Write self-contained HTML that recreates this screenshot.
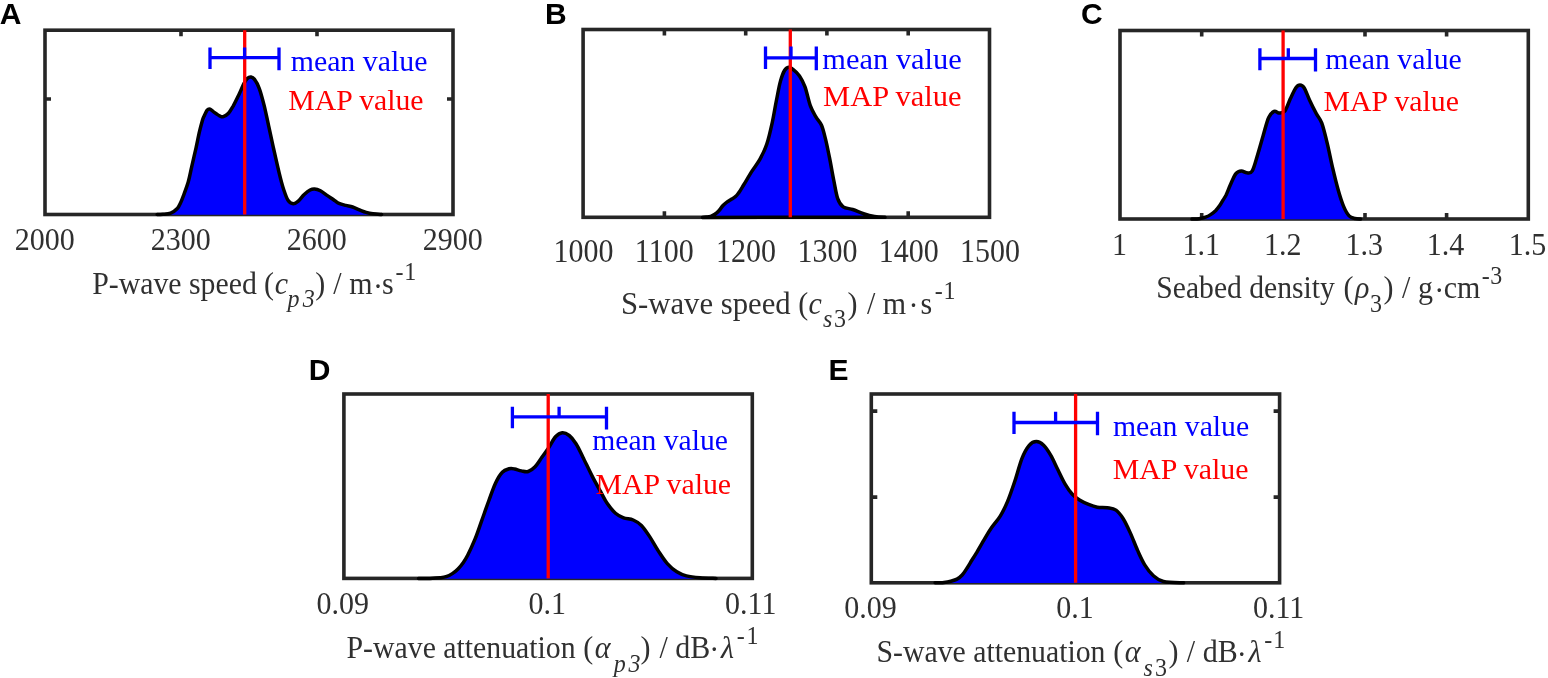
<!DOCTYPE html>
<html><head><meta charset="utf-8"><title>Posterior distributions</title>
<style>
html,body{margin:0;padding:0;background:#fff;}
body{width:1548px;height:678px;overflow:hidden;}
svg{display:block;}
.t{font-family:'Liberation Serif','Times New Roman',serif;font-size:30px;fill:#303030;}
.pl{font-family:'Liberation Sans',Arial,sans-serif;font-size:30px;font-weight:bold;fill:#000;}
</style></head>
<body>
<svg width="1548" height="678" viewBox="0 0 1548 678">
<rect width="1548" height="678" fill="#fff"/>
<g>
<path d="M181.0,30.2 v6.0 M181.0,214.5 v-6.0 M317.0,30.2 v6.0 M317.0,214.5 v-6.0 M45.0,99.0 h6.0 M453.0,99.0 h-6.0" stroke="#262626" stroke-width="3.6" fill="none"/>
<rect x="45.0" y="30.2" width="408.0" height="184.3" fill="none" stroke="#262626" stroke-width="3.6"/>
<path d="M157.1,214.5 C158.1,214.5 160.7,214.5 163.0,214.3 C165.3,214.1 168.3,214.1 170.7,213.1 C173.1,212.1 175.7,210.2 177.3,208.5 C179.0,206.8 179.6,204.9 180.6,202.8 C181.6,200.7 182.1,199.3 183.4,195.8 C184.7,192.3 186.9,186.7 188.3,181.8 C189.7,176.9 190.5,171.9 191.8,166.3 C193.1,160.7 194.7,153.9 196.0,148.1 C197.3,142.2 198.5,135.8 199.6,131.2 C200.7,126.6 201.7,123.0 202.4,120.5 C203.1,118.0 203.1,118.2 203.9,116.5 C204.7,114.8 206.2,111.3 207.2,110.1 C208.2,108.9 208.9,108.7 210.1,109.1 C211.3,109.5 212.6,111.2 214.3,112.4 C216.0,113.6 218.7,115.5 220.2,116.2 C221.7,116.9 221.9,117.2 223.3,116.7 C224.7,116.2 226.8,115.0 228.5,113.2 C230.2,111.4 231.4,109.2 233.2,106.1 C235.0,102.9 237.3,98.0 239.1,94.3 C240.9,90.5 242.5,86.2 243.9,83.6 C245.3,80.9 246.2,79.5 247.4,78.4 C248.6,77.3 249.8,76.8 251.0,77.0 C252.2,77.2 253.1,77.5 254.5,79.4 C255.9,81.3 257.6,84.0 259.2,88.3 C260.8,92.5 262.4,98.6 264.0,104.9 C265.6,111.2 267.1,119.0 268.7,126.1 C270.2,133.2 271.6,139.6 273.3,147.4 C275.1,155.2 277.5,166.1 279.2,173.1 C280.9,180.1 282.1,184.8 283.6,189.3 C285.1,193.8 286.4,197.9 288.0,200.3 C289.6,202.7 291.5,203.6 293.2,203.7 C294.9,203.8 296.5,202.6 298.3,201.1 C300.1,199.6 302.2,196.3 304.2,194.5 C306.2,192.7 308.4,190.9 310.1,190.0 C311.8,189.1 312.8,188.9 314.5,189.0 C316.2,189.1 318.2,189.7 320.4,190.8 C322.6,192.0 325.4,194.3 327.8,195.9 C330.2,197.5 332.6,199.2 334.5,200.4 C336.4,201.7 337.1,202.6 339.0,203.4 C340.9,204.2 343.5,204.8 345.8,205.4 C348.1,206.0 350.3,206.2 352.6,207.0 C354.9,207.8 357.1,209.0 359.4,209.9 C361.7,210.8 363.9,211.8 366.2,212.4 C368.5,213.1 370.4,213.5 373.0,213.8 C375.6,214.2 380.2,214.4 381.6,214.5 L381.6,214.8 L157.1,214.8 Z" fill="#0000ff" stroke="none"/>
<path d="M157.1,214.5 C158.1,214.5 160.7,214.5 163.0,214.3 C165.3,214.1 168.3,214.1 170.7,213.1 C173.1,212.1 175.7,210.2 177.3,208.5 C179.0,206.8 179.6,204.9 180.6,202.8 C181.6,200.7 182.1,199.3 183.4,195.8 C184.7,192.3 186.9,186.7 188.3,181.8 C189.7,176.9 190.5,171.9 191.8,166.3 C193.1,160.7 194.7,153.9 196.0,148.1 C197.3,142.2 198.5,135.8 199.6,131.2 C200.7,126.6 201.7,123.0 202.4,120.5 C203.1,118.0 203.1,118.2 203.9,116.5 C204.7,114.8 206.2,111.3 207.2,110.1 C208.2,108.9 208.9,108.7 210.1,109.1 C211.3,109.5 212.6,111.2 214.3,112.4 C216.0,113.6 218.7,115.5 220.2,116.2 C221.7,116.9 221.9,117.2 223.3,116.7 C224.7,116.2 226.8,115.0 228.5,113.2 C230.2,111.4 231.4,109.2 233.2,106.1 C235.0,102.9 237.3,98.0 239.1,94.3 C240.9,90.5 242.5,86.2 243.9,83.6 C245.3,80.9 246.2,79.5 247.4,78.4 C248.6,77.3 249.8,76.8 251.0,77.0 C252.2,77.2 253.1,77.5 254.5,79.4 C255.9,81.3 257.6,84.0 259.2,88.3 C260.8,92.5 262.4,98.6 264.0,104.9 C265.6,111.2 267.1,119.0 268.7,126.1 C270.2,133.2 271.6,139.6 273.3,147.4 C275.1,155.2 277.5,166.1 279.2,173.1 C280.9,180.1 282.1,184.8 283.6,189.3 C285.1,193.8 286.4,197.9 288.0,200.3 C289.6,202.7 291.5,203.6 293.2,203.7 C294.9,203.8 296.5,202.6 298.3,201.1 C300.1,199.6 302.2,196.3 304.2,194.5 C306.2,192.7 308.4,190.9 310.1,190.0 C311.8,189.1 312.8,188.9 314.5,189.0 C316.2,189.1 318.2,189.7 320.4,190.8 C322.6,192.0 325.4,194.3 327.8,195.9 C330.2,197.5 332.6,199.2 334.5,200.4 C336.4,201.7 337.1,202.6 339.0,203.4 C340.9,204.2 343.5,204.8 345.8,205.4 C348.1,206.0 350.3,206.2 352.6,207.0 C354.9,207.8 357.1,209.0 359.4,209.9 C361.7,210.8 363.9,211.8 366.2,212.4 C368.5,213.1 370.4,213.5 373.0,213.8 C375.6,214.2 380.2,214.4 381.6,214.5" fill="none" stroke="#000" stroke-width="3.5" stroke-linejoin="round" stroke-linecap="round"/>
<line x1="244.7" y1="30.2" x2="244.7" y2="214.5" stroke="#ff0000" stroke-width="3.3"/>
<path d="M210.0,47.4 V69.0 M279.0,47.4 V70.2 M210.0,57.7 H279.0 M244.6,47.4 V57.7" stroke="#0000ff" stroke-width="3.3" fill="none"/>
<text class="t" transform="translate(14.71 249.90) scale(1 1.080)">2000</text>
<text class="t" transform="translate(150.71 249.90) scale(1 1.080)">2300</text>
<text class="t" transform="translate(286.71 249.90) scale(1 1.080)">2600</text>
<text class="t" transform="translate(422.71 249.90) scale(1 1.080)">2900</text>
<text class="t" transform="translate(290.67 70.70) scale(0.9951 1.0150)" style="fill:#0000ff">mean value</text>
<text class="t" transform="translate(288.34 110.20) scale(0.9920 1.0150)" style="fill:#ff0000">MAP value</text>
<text class="pl" x="-0.15" y="23.60" style="font-size:30px">A</text>
</g>
<g>
<path d="M664.4,29.5 v6.0 M664.4,217.3 v-6.0 M745.7,29.5 v6.0 M745.7,217.3 v-6.0 M826.9,29.5 v6.0 M826.9,217.3 v-6.0 M908.2,29.5 v6.0 M908.2,217.3 v-6.0" stroke="#262626" stroke-width="3.6" fill="none"/>
<rect x="583.1" y="29.5" width="406.4" height="187.8" fill="none" stroke="#262626" stroke-width="3.6"/>
<path d="M702.4,217.4 C703.1,217.3 705.1,217.3 706.5,217.1 C707.9,216.9 709.3,216.8 710.7,216.3 C712.1,215.8 713.4,215.2 714.8,214.3 C716.2,213.4 717.5,212.2 718.9,210.7 C720.3,209.2 721.6,207.0 723.0,205.5 C724.4,204.0 725.8,202.9 727.2,201.9 C728.6,200.9 729.9,200.2 731.3,199.3 C732.7,198.4 734.2,197.7 735.4,196.7 C736.6,195.7 737.1,195.0 738.5,193.1 C739.9,191.2 741.4,188.6 743.6,185.0 C745.8,181.4 749.1,175.7 751.8,171.4 C754.5,167.1 757.5,163.7 760.0,159.1 C762.5,154.5 764.8,150.2 766.8,144.1 C768.8,138.0 770.7,129.6 772.3,122.3 C773.9,115.0 775.0,107.3 776.4,100.5 C777.8,93.7 779.0,86.4 780.4,81.4 C781.8,76.4 783.1,72.9 784.5,70.5 C785.9,68.1 787.2,67.4 788.6,67.2 C790.0,67.0 790.9,67.6 792.7,69.1 C794.5,70.5 797.5,73.0 799.5,75.9 C801.5,78.9 803.2,81.8 805.0,86.8 C806.8,91.8 808.6,100.9 810.4,105.9 C812.2,110.9 814.1,113.6 815.9,116.8 C817.7,120.0 819.8,121.4 821.4,125.0 C823.0,128.6 824.0,133.2 825.4,138.6 C826.8,144.0 828.1,150.9 829.5,157.7 C830.9,164.5 832.2,172.7 833.6,179.5 C835.0,186.3 836.1,194.0 837.7,198.6 C839.3,203.2 840.7,205.0 843.2,206.8 C845.7,208.6 849.3,208.4 852.7,209.5 C856.1,210.6 860.0,212.4 863.6,213.6 C867.2,214.8 870.9,215.8 874.5,216.4 C878.1,217.0 883.2,217.2 885.0,217.3 L885.0,217.6 L702.4,217.6 Z" fill="#0000ff" stroke="none"/>
<path d="M702.4,217.4 C703.1,217.3 705.1,217.3 706.5,217.1 C707.9,216.9 709.3,216.8 710.7,216.3 C712.1,215.8 713.4,215.2 714.8,214.3 C716.2,213.4 717.5,212.2 718.9,210.7 C720.3,209.2 721.6,207.0 723.0,205.5 C724.4,204.0 725.8,202.9 727.2,201.9 C728.6,200.9 729.9,200.2 731.3,199.3 C732.7,198.4 734.2,197.7 735.4,196.7 C736.6,195.7 737.1,195.0 738.5,193.1 C739.9,191.2 741.4,188.6 743.6,185.0 C745.8,181.4 749.1,175.7 751.8,171.4 C754.5,167.1 757.5,163.7 760.0,159.1 C762.5,154.5 764.8,150.2 766.8,144.1 C768.8,138.0 770.7,129.6 772.3,122.3 C773.9,115.0 775.0,107.3 776.4,100.5 C777.8,93.7 779.0,86.4 780.4,81.4 C781.8,76.4 783.1,72.9 784.5,70.5 C785.9,68.1 787.2,67.4 788.6,67.2 C790.0,67.0 790.9,67.6 792.7,69.1 C794.5,70.5 797.5,73.0 799.5,75.9 C801.5,78.9 803.2,81.8 805.0,86.8 C806.8,91.8 808.6,100.9 810.4,105.9 C812.2,110.9 814.1,113.6 815.9,116.8 C817.7,120.0 819.8,121.4 821.4,125.0 C823.0,128.6 824.0,133.2 825.4,138.6 C826.8,144.0 828.1,150.9 829.5,157.7 C830.9,164.5 832.2,172.7 833.6,179.5 C835.0,186.3 836.1,194.0 837.7,198.6 C839.3,203.2 840.7,205.0 843.2,206.8 C845.7,208.6 849.3,208.4 852.7,209.5 C856.1,210.6 860.0,212.4 863.6,213.6 C867.2,214.8 870.9,215.8 874.5,216.4 C878.1,217.0 883.2,217.2 885.0,217.3 Z" fill="none" stroke="#000" stroke-width="3.5" stroke-linejoin="round"/>
<line x1="790.3" y1="29.5" x2="790.3" y2="217.3" stroke="#ff0000" stroke-width="3.3"/>
<path d="M765.5,46.6 V69.1 M816.3,46.6 V70.3 M765.5,57.9 H816.3 M791.0,46.6 V57.9" stroke="#0000ff" stroke-width="3.3" fill="none"/>
<text class="t" transform="translate(553.55 261.80) scale(1 1.120)">1000</text>
<text class="t" transform="translate(634.83 261.80) scale(1 1.120)">1100</text>
<text class="t" transform="translate(716.11 261.80) scale(1 1.120)">1200</text>
<text class="t" transform="translate(797.39 261.80) scale(1 1.120)">1300</text>
<text class="t" transform="translate(878.67 261.80) scale(1 1.120)">1400</text>
<text class="t" transform="translate(959.95 261.80) scale(1 1.120)">1500</text>
<text class="t" transform="translate(822.36 69.10) scale(1.0150 1.0150)" style="fill:#0000ff">mean value</text>
<text class="t" transform="translate(823.12 105.50) scale(1.0156 1.0150)" style="fill:#ff0000">MAP value</text>
<text class="pl" x="544.89" y="23.80" style="font-size:30px">B</text>
</g>
<g>
<path d="M1201.7,30.5 v6.0 M1201.7,219.0 v-6.0 M1365.0,30.5 v6.0 M1365.0,219.0 v-6.0 M1446.6,30.5 v6.0 M1446.6,219.0 v-6.0" stroke="#262626" stroke-width="3.6" fill="none"/>
<rect x="1120.0" y="30.5" width="408.3" height="188.5" fill="none" stroke="#262626" stroke-width="3.6"/>
<path d="M1192.0,219.0 C1193.2,218.9 1196.8,219.0 1199.0,218.7 C1201.2,218.4 1203.6,217.9 1205.5,217.2 C1207.4,216.5 1208.9,215.7 1210.6,214.6 C1212.3,213.5 1214.2,212.1 1215.8,210.5 C1217.3,208.9 1218.7,207.0 1219.9,205.3 C1221.1,203.6 1222.0,201.9 1223.0,200.2 C1224.0,198.5 1224.8,197.6 1226.1,195.0 C1227.3,192.4 1228.9,188.1 1230.5,184.5 C1232.1,180.9 1234.1,175.9 1235.9,173.6 C1237.7,171.3 1239.6,171.0 1241.4,170.9 C1243.2,170.8 1245.0,172.8 1246.8,172.8 C1248.6,172.8 1250.5,174.0 1252.3,170.9 C1254.1,167.8 1255.9,160.4 1257.7,154.5 C1259.5,148.6 1261.4,141.5 1263.2,135.4 C1265.0,129.3 1266.8,121.7 1268.6,117.7 C1270.4,113.7 1272.3,112.2 1274.1,111.4 C1275.9,110.6 1277.7,113.2 1279.5,113.1 C1281.3,113.0 1283.2,113.3 1285.0,110.9 C1286.8,108.5 1288.6,102.5 1290.4,98.6 C1292.2,94.7 1294.3,90.0 1295.9,87.7 C1297.5,85.4 1298.6,85.0 1300.0,85.0 C1301.4,85.0 1302.5,85.2 1304.1,87.7 C1305.7,90.2 1307.5,95.7 1309.5,100.0 C1311.5,104.3 1314.2,109.7 1316.3,113.6 C1318.3,117.5 1320.0,118.2 1321.8,123.2 C1323.6,128.2 1325.5,136.1 1327.3,143.6 C1329.1,151.1 1330.9,160.5 1332.7,168.2 C1334.5,175.9 1336.4,183.6 1338.2,190.0 C1340.0,196.4 1341.8,202.1 1343.6,206.4 C1345.4,210.7 1347.2,213.9 1349.1,215.9 C1351.0,217.9 1353.1,218.0 1355.0,218.5 C1356.9,219.0 1359.6,218.9 1360.5,219.0 L1360.5,219.3 L1192.0,219.3 Z" fill="#0000ff" stroke="none"/>
<path d="M1192.0,219.0 C1193.2,218.9 1196.8,219.0 1199.0,218.7 C1201.2,218.4 1203.6,217.9 1205.5,217.2 C1207.4,216.5 1208.9,215.7 1210.6,214.6 C1212.3,213.5 1214.2,212.1 1215.8,210.5 C1217.3,208.9 1218.7,207.0 1219.9,205.3 C1221.1,203.6 1222.0,201.9 1223.0,200.2 C1224.0,198.5 1224.8,197.6 1226.1,195.0 C1227.3,192.4 1228.9,188.1 1230.5,184.5 C1232.1,180.9 1234.1,175.9 1235.9,173.6 C1237.7,171.3 1239.6,171.0 1241.4,170.9 C1243.2,170.8 1245.0,172.8 1246.8,172.8 C1248.6,172.8 1250.5,174.0 1252.3,170.9 C1254.1,167.8 1255.9,160.4 1257.7,154.5 C1259.5,148.6 1261.4,141.5 1263.2,135.4 C1265.0,129.3 1266.8,121.7 1268.6,117.7 C1270.4,113.7 1272.3,112.2 1274.1,111.4 C1275.9,110.6 1277.7,113.2 1279.5,113.1 C1281.3,113.0 1283.2,113.3 1285.0,110.9 C1286.8,108.5 1288.6,102.5 1290.4,98.6 C1292.2,94.7 1294.3,90.0 1295.9,87.7 C1297.5,85.4 1298.6,85.0 1300.0,85.0 C1301.4,85.0 1302.5,85.2 1304.1,87.7 C1305.7,90.2 1307.5,95.7 1309.5,100.0 C1311.5,104.3 1314.2,109.7 1316.3,113.6 C1318.3,117.5 1320.0,118.2 1321.8,123.2 C1323.6,128.2 1325.5,136.1 1327.3,143.6 C1329.1,151.1 1330.9,160.5 1332.7,168.2 C1334.5,175.9 1336.4,183.6 1338.2,190.0 C1340.0,196.4 1341.8,202.1 1343.6,206.4 C1345.4,210.7 1347.2,213.9 1349.1,215.9 C1351.0,217.9 1353.1,218.0 1355.0,218.5 C1356.9,219.0 1359.6,218.9 1360.5,219.0" fill="none" stroke="#000" stroke-width="3.5" stroke-linejoin="round" stroke-linecap="round"/>
<line x1="1283.1" y1="30.5" x2="1283.1" y2="219.0" stroke="#ff0000" stroke-width="3.3"/>
<path d="M1259.9,48.2 V70.2 M1315.5,48.2 V71.4 M1259.9,58.5 H1315.5 M1288.3,48.2 V58.5" stroke="#0000ff" stroke-width="3.3" fill="none"/>
<text class="t" transform="translate(1112.08 254.80) scale(1 1.080)">1</text>
<text class="t" transform="translate(1182.49 254.80) scale(1 1.080)">1.1</text>
<text class="t" transform="translate(1264.08 254.80) scale(1 1.080)">1.2</text>
<text class="t" transform="translate(1345.50 254.80) scale(1 1.080)">1.3</text>
<text class="t" transform="translate(1426.81 254.80) scale(1 1.080)">1.4</text>
<text class="t" transform="translate(1508.82 254.80) scale(1 1.080)">1.5</text>
<text class="t" transform="translate(1325.37 68.60) scale(0.9929 1.0150)" style="fill:#0000ff">mean value</text>
<text class="t" transform="translate(1323.54 110.90) scale(0.9927 1.0150)" style="fill:#ff0000">MAP value</text>
<text class="pl" x="1080.97" y="24.20" style="font-size:30px">C</text>
</g>
<g>
<path d="" stroke="#262626" stroke-width="3.6" fill="none"/>
<rect x="343.9" y="394.0" width="408.4" height="184.4" fill="none" stroke="#262626" stroke-width="3.6"/>
<path d="M418.5,578.5 C420.4,578.5 426.4,578.5 430.0,578.4 C433.6,578.3 437.3,578.1 440.0,577.8 C442.7,577.5 444.1,577.4 446.1,576.7 C448.2,576.0 450.3,574.9 452.3,573.6 C454.3,572.3 456.2,570.7 458.0,568.9 C459.8,567.1 461.6,565.0 463.2,562.7 C464.8,560.4 465.8,558.9 467.8,555.0 C469.8,551.1 472.6,545.0 475.0,539.2 C477.4,533.4 479.6,526.5 481.9,520.1 C484.2,513.7 486.4,507.1 488.7,501.0 C491.0,494.9 493.2,488.0 495.5,483.2 C497.8,478.4 500.0,474.7 502.3,472.3 C504.6,469.9 507.1,469.4 509.1,468.8 C511.2,468.2 512.6,468.6 514.6,469.0 C516.6,469.4 519.1,470.5 521.4,470.9 C523.7,471.3 525.9,472.2 528.2,471.5 C530.5,470.8 532.8,469.2 535.1,466.8 C537.4,464.4 539.6,460.5 541.9,457.3 C544.2,454.1 546.4,451.1 548.7,447.7 C551.0,444.3 553.2,439.3 555.5,436.8 C557.8,434.3 560.0,432.9 562.3,432.7 C564.6,432.5 566.9,433.7 569.2,435.5 C571.5,437.3 573.7,440.1 576.0,443.7 C578.3,447.3 580.1,451.4 582.8,456.9 C585.5,462.3 589.3,470.6 592.3,476.4 C595.2,482.1 598.0,486.9 600.5,491.4 C603.0,495.9 604.8,500.0 607.3,503.6 C609.8,507.2 612.8,510.8 615.5,513.2 C618.2,515.6 620.6,516.7 623.6,517.8 C626.6,518.9 630.2,518.7 633.2,520.0 C636.2,521.3 638.7,522.7 641.4,525.4 C644.1,528.1 646.8,532.3 649.5,536.4 C652.2,540.5 654.7,545.5 657.7,550.0 C660.7,554.5 664.1,560.0 667.3,563.6 C670.5,567.2 673.6,569.8 676.8,571.8 C680.0,573.8 682.5,574.9 686.4,575.9 C690.3,576.9 695.1,577.4 700.0,577.8 C704.9,578.2 713.3,578.3 716.0,578.4 L716.0,578.7 L418.5,578.7 Z" fill="#0000ff" stroke="none"/>
<path d="M418.5,578.5 C420.4,578.5 426.4,578.5 430.0,578.4 C433.6,578.3 437.3,578.1 440.0,577.8 C442.7,577.5 444.1,577.4 446.1,576.7 C448.2,576.0 450.3,574.9 452.3,573.6 C454.3,572.3 456.2,570.7 458.0,568.9 C459.8,567.1 461.6,565.0 463.2,562.7 C464.8,560.4 465.8,558.9 467.8,555.0 C469.8,551.1 472.6,545.0 475.0,539.2 C477.4,533.4 479.6,526.5 481.9,520.1 C484.2,513.7 486.4,507.1 488.7,501.0 C491.0,494.9 493.2,488.0 495.5,483.2 C497.8,478.4 500.0,474.7 502.3,472.3 C504.6,469.9 507.1,469.4 509.1,468.8 C511.2,468.2 512.6,468.6 514.6,469.0 C516.6,469.4 519.1,470.5 521.4,470.9 C523.7,471.3 525.9,472.2 528.2,471.5 C530.5,470.8 532.8,469.2 535.1,466.8 C537.4,464.4 539.6,460.5 541.9,457.3 C544.2,454.1 546.4,451.1 548.7,447.7 C551.0,444.3 553.2,439.3 555.5,436.8 C557.8,434.3 560.0,432.9 562.3,432.7 C564.6,432.5 566.9,433.7 569.2,435.5 C571.5,437.3 573.7,440.1 576.0,443.7 C578.3,447.3 580.1,451.4 582.8,456.9 C585.5,462.3 589.3,470.6 592.3,476.4 C595.2,482.1 598.0,486.9 600.5,491.4 C603.0,495.9 604.8,500.0 607.3,503.6 C609.8,507.2 612.8,510.8 615.5,513.2 C618.2,515.6 620.6,516.7 623.6,517.8 C626.6,518.9 630.2,518.7 633.2,520.0 C636.2,521.3 638.7,522.7 641.4,525.4 C644.1,528.1 646.8,532.3 649.5,536.4 C652.2,540.5 654.7,545.5 657.7,550.0 C660.7,554.5 664.1,560.0 667.3,563.6 C670.5,567.2 673.6,569.8 676.8,571.8 C680.0,573.8 682.5,574.9 686.4,575.9 C690.3,576.9 695.1,577.4 700.0,577.8 C704.9,578.2 713.3,578.3 716.0,578.4" fill="none" stroke="#000" stroke-width="3.5" stroke-linejoin="round" stroke-linecap="round"/>
<line x1="548.2" y1="394.0" x2="548.2" y2="578.4" stroke="#ff0000" stroke-width="3.3"/>
<path d="M512.4,406.8 V428.3 M606.5,406.8 V429.5 M512.4,416.9 H606.5 M559.1,406.8 V416.9" stroke="#0000ff" stroke-width="3.3" fill="none"/>
<text class="t" transform="translate(316.39 613.90) scale(1 1.080)">0.09</text>
<text class="t" transform="translate(528.38 613.90) scale(1 1.080)">0.1</text>
<text class="t" transform="translate(725.08 613.90) scale(1 1.080)">0.11</text>
<text class="t" transform="translate(592.18 450.00) scale(0.9885 1.0150)" style="fill:#0000ff">mean value</text>
<text class="t" transform="translate(595.44 494.00) scale(0.9949 1.0150)" style="fill:#ff0000">MAP value</text>
<text class="pl" x="308.79" y="379.70" style="font-size:30px">D</text>
</g>
<g>
<path d="M871.3,411.1 h6.0 M1279.6,411.1 h-6.0 M871.3,497.1 h6.0 M1279.6,497.1 h-6.0" stroke="#262626" stroke-width="3.6" fill="none"/>
<rect x="871.3" y="394.0" width="408.3" height="188.8" fill="none" stroke="#262626" stroke-width="3.6"/>
<path d="M935.1,582.8 C936.6,582.8 941.4,582.8 944.0,582.5 C946.6,582.2 948.6,581.8 950.8,581.2 C953.0,580.6 955.1,580.1 957.0,579.1 C958.9,578.1 960.5,576.9 962.2,575.0 C963.9,573.1 965.7,570.2 967.3,567.7 C968.9,565.2 970.5,562.4 972.0,560.0 C973.5,557.6 973.9,557.1 976.0,553.6 C978.1,550.1 982.0,543.2 984.6,538.8 C987.2,534.4 989.2,531.1 991.8,527.3 C994.4,523.5 997.8,520.1 1000.4,515.8 C1003.0,511.5 1005.2,507.1 1007.6,501.4 C1010.0,495.6 1012.4,488.5 1014.8,481.3 C1017.2,474.1 1019.6,464.3 1022.0,458.3 C1024.4,452.3 1026.8,448.1 1029.2,445.3 C1031.6,442.5 1034.0,441.6 1036.4,441.6 C1038.8,441.6 1041.2,443.0 1043.6,445.3 C1046.0,447.6 1048.4,451.3 1050.8,455.4 C1053.2,459.5 1055.5,465.0 1057.9,469.8 C1060.3,474.6 1062.7,480.0 1065.1,484.1 C1067.5,488.2 1069.9,491.6 1072.3,494.2 C1074.7,496.8 1076.8,498.3 1079.5,500.0 C1082.2,501.7 1085.6,503.2 1088.6,504.4 C1091.6,505.6 1094.2,506.6 1097.3,507.2 C1100.4,507.8 1104.2,507.3 1107.3,507.8 C1110.4,508.3 1113.3,508.3 1116.0,510.1 C1118.7,511.9 1120.8,514.9 1123.2,518.7 C1125.6,522.5 1128.0,527.8 1130.4,533.1 C1132.8,538.4 1135.2,545.1 1137.6,550.4 C1140.0,555.7 1142.1,560.6 1144.7,564.8 C1147.3,569.0 1150.3,572.9 1153.4,575.7 C1156.5,578.5 1158.5,580.3 1163.5,581.5 C1168.5,582.7 1180.2,582.6 1183.6,582.8 L1183.6,583.1 L935.1,583.1 Z" fill="#0000ff" stroke="none"/>
<path d="M935.1,582.8 C936.6,582.8 941.4,582.8 944.0,582.5 C946.6,582.2 948.6,581.8 950.8,581.2 C953.0,580.6 955.1,580.1 957.0,579.1 C958.9,578.1 960.5,576.9 962.2,575.0 C963.9,573.1 965.7,570.2 967.3,567.7 C968.9,565.2 970.5,562.4 972.0,560.0 C973.5,557.6 973.9,557.1 976.0,553.6 C978.1,550.1 982.0,543.2 984.6,538.8 C987.2,534.4 989.2,531.1 991.8,527.3 C994.4,523.5 997.8,520.1 1000.4,515.8 C1003.0,511.5 1005.2,507.1 1007.6,501.4 C1010.0,495.6 1012.4,488.5 1014.8,481.3 C1017.2,474.1 1019.6,464.3 1022.0,458.3 C1024.4,452.3 1026.8,448.1 1029.2,445.3 C1031.6,442.5 1034.0,441.6 1036.4,441.6 C1038.8,441.6 1041.2,443.0 1043.6,445.3 C1046.0,447.6 1048.4,451.3 1050.8,455.4 C1053.2,459.5 1055.5,465.0 1057.9,469.8 C1060.3,474.6 1062.7,480.0 1065.1,484.1 C1067.5,488.2 1069.9,491.6 1072.3,494.2 C1074.7,496.8 1076.8,498.3 1079.5,500.0 C1082.2,501.7 1085.6,503.2 1088.6,504.4 C1091.6,505.6 1094.2,506.6 1097.3,507.2 C1100.4,507.8 1104.2,507.3 1107.3,507.8 C1110.4,508.3 1113.3,508.3 1116.0,510.1 C1118.7,511.9 1120.8,514.9 1123.2,518.7 C1125.6,522.5 1128.0,527.8 1130.4,533.1 C1132.8,538.4 1135.2,545.1 1137.6,550.4 C1140.0,555.7 1142.1,560.6 1144.7,564.8 C1147.3,569.0 1150.3,572.9 1153.4,575.7 C1156.5,578.5 1158.5,580.3 1163.5,581.5 C1168.5,582.7 1180.2,582.6 1183.6,582.8" fill="none" stroke="#000" stroke-width="3.5" stroke-linejoin="round" stroke-linecap="round"/>
<line x1="1075.6" y1="394.0" x2="1075.6" y2="582.8" stroke="#ff0000" stroke-width="3.3"/>
<path d="M1014.0,411.8 V434.0 M1097.5,411.8 V435.2 M1014.0,422.5 H1097.5 M1055.6,411.8 V422.5" stroke="#0000ff" stroke-width="3.3" fill="none"/>
<text class="t" transform="translate(844.29 618.10) scale(1 1.080)">0.09</text>
<text class="t" transform="translate(1056.23 618.10) scale(1 1.080)">0.1</text>
<text class="t" transform="translate(1252.88 618.10) scale(1 1.080)">0.11</text>
<text class="t" transform="translate(1112.98 435.80) scale(0.9914 1.0150)" style="fill:#0000ff">mean value</text>
<text class="t" transform="translate(1112.74 478.90) scale(0.9949 1.0150)" style="fill:#ff0000">MAP value</text>
<text class="pl" x="828.49" y="379.70" style="font-size:30px">E</text>
</g>
<text class="t" transform="translate(92.14 293.70) scale(0.9936 1.0800)">P-wave speed</text>
<text class="t" transform="translate(263.88 293.70) scale(1.0000 1.0800)">(</text>
<text class="t" transform="translate(274.78 293.70) scale(1.0000 1.0800)" style="font-style:italic">c</text>
<text class="t" transform="translate(287.51 307.20) scale(1.0000 1.0800)" style="font-style:italic;font-size:24px">p</text>
<text class="t" transform="translate(302.64 307.20) scale(1.0000 1.0800)" style="font-style:italic;font-size:24px">3</text>
<text class="t" transform="translate(315.33 293.70) scale(1.0000 1.0800)">)</text>
<text class="t" transform="translate(333.30 293.70) scale(1.0000 1.0800)">/</text>
<text class="t" transform="translate(349.17 293.70) scale(1.0000 1.0800)">m</text>
<text class="t" transform="translate(372.88 296.50) scale(1.0000 1.0800)">·</text>
<text class="t" transform="translate(382.07 293.70) scale(1.0000 1.0800)">s</text>
<text class="t" transform="translate(395.51 280.00) scale(1.0000 1.0800)" style="font-size:24px">-</text>
<text class="t" transform="translate(404.29 280.00) scale(1.0000 1.0800)" style="font-size:24px">1</text>
<text class="t" transform="translate(620.94 313.50) scale(1.0245 1.0800)">S-wave speed</text>
<text class="t" transform="translate(798.28 313.50) scale(1.0000 1.0800)">(</text>
<text class="t" transform="translate(808.58 313.50) scale(1.0000 1.0800)" style="font-style:italic">c</text>
<text class="t" transform="translate(823.11 326.70) scale(1.0000 1.0800)" style="font-style:italic;font-size:24px">s</text>
<text class="t" transform="translate(833.95 326.70) scale(1.0000 1.0800)" style="font-size:24px">3</text>
<text class="t" transform="translate(847.43 313.50) scale(1.0000 1.0800)">)</text>
<text class="t" transform="translate(867.00 313.50) scale(1.0000 1.0800)">/</text>
<text class="t" transform="translate(882.67 313.50) scale(1.0000 1.0800)">m</text>
<text class="t" transform="translate(908.58 316.30) scale(1.0000 1.0800)">·</text>
<text class="t" transform="translate(920.47 313.50) scale(1.0000 1.0800)">s</text>
<text class="t" transform="translate(934.71 298.80) scale(1.0000 1.0800)" style="font-size:24px">-</text>
<text class="t" transform="translate(943.39 298.80) scale(1.0000 1.0800)" style="font-size:24px">1</text>
<text class="t" transform="translate(1156.32 298.20) scale(0.9879 1.0800)">Seabed density</text>
<text class="t" transform="translate(1343.58 298.20) scale(1.0000 1.0800)">(</text>
<text class="t" transform="translate(1354.96 298.20) scale(1.0000 1.0800)" style="font-style:italic">ρ</text>
<text class="t" transform="translate(1369.95 311.70) scale(1.0000 1.0800)" style="font-size:24px">3</text>
<text class="t" transform="translate(1383.53 298.20) scale(1.0000 1.0800)">)</text>
<text class="t" transform="translate(1401.90 298.20) scale(1.0000 1.0800)">/</text>
<text class="t" transform="translate(1418.11 298.20) scale(1.0000 1.0800)">g</text>
<text class="t" transform="translate(1434.18 301.00) scale(1.0000 1.0800)">·</text>
<text class="t" transform="translate(1443.76 298.20) scale(1.0000 1.0800)">cm</text>
<text class="t" transform="translate(1481.81 284.40) scale(1.0000 1.0800)" style="font-size:24px">-</text>
<text class="t" transform="translate(1490.25 284.40) scale(1.0000 1.0800)" style="font-size:24px">3</text>
<text class="t" transform="translate(346.54 657.60) scale(0.9933 1.0800)">P-wave attenuation</text>
<text class="t" transform="translate(583.28 657.60) scale(1.0000 1.0800)">(</text>
<text class="t" transform="translate(594.71 657.60) scale(1.0000 1.0800)" style="font-style:italic">α</text>
<text class="t" transform="translate(613.81 671.70) scale(1.0000 1.0800)" style="font-style:italic;font-size:24px">p</text>
<text class="t" transform="translate(628.54 671.70) scale(1.0000 1.0800)" style="font-style:italic;font-size:24px">3</text>
<text class="t" transform="translate(640.43 657.60) scale(1.0000 1.0800)">)</text>
<text class="t" transform="translate(659.50 657.60) scale(1.0000 1.0800)">/</text>
<text class="t" transform="translate(675.22 657.60) scale(1.0000 1.0800)">dB</text>
<text class="t" transform="translate(709.28 660.40) scale(1.0000 1.0800)">·</text>
<text class="t" transform="translate(721.03 657.60) scale(1.0000 1.0800)" style="font-style:italic">λ</text>
<text class="t" transform="translate(736.81 643.90) scale(1.0000 1.0800)" style="font-size:24px">-</text>
<text class="t" transform="translate(746.59 643.90) scale(1.0000 1.0800)" style="font-size:24px">1</text>
<text class="t" transform="translate(876.51 662.30) scale(0.9926 1.0800)">S-wave attenuation</text>
<text class="t" transform="translate(1113.28 662.30) scale(1.0000 1.0800)">(</text>
<text class="t" transform="translate(1124.71 662.30) scale(1.0000 1.0800)" style="font-style:italic">α</text>
<text class="t" transform="translate(1143.41 675.80) scale(1.0000 1.0800)" style="font-style:italic;font-size:24px">s</text>
<text class="t" transform="translate(1155.05 675.80) scale(1.0000 1.0800)" style="font-size:24px">3</text>
<text class="t" transform="translate(1168.53 662.30) scale(1.0000 1.0800)">)</text>
<text class="t" transform="translate(1186.70 662.30) scale(1.0000 1.0800)">/</text>
<text class="t" transform="translate(1202.72 662.30) scale(1.0000 1.0800)">dB</text>
<text class="t" transform="translate(1236.68 665.10) scale(1.0000 1.0800)">·</text>
<text class="t" transform="translate(1248.43 662.30) scale(1.0000 1.0800)" style="font-style:italic">λ</text>
<text class="t" transform="translate(1264.21 647.80) scale(1.0000 1.0800)" style="font-size:24px">-</text>
<text class="t" transform="translate(1273.29 647.80) scale(1.0000 1.0800)" style="font-size:24px">1</text>
</svg>
</body></html>
